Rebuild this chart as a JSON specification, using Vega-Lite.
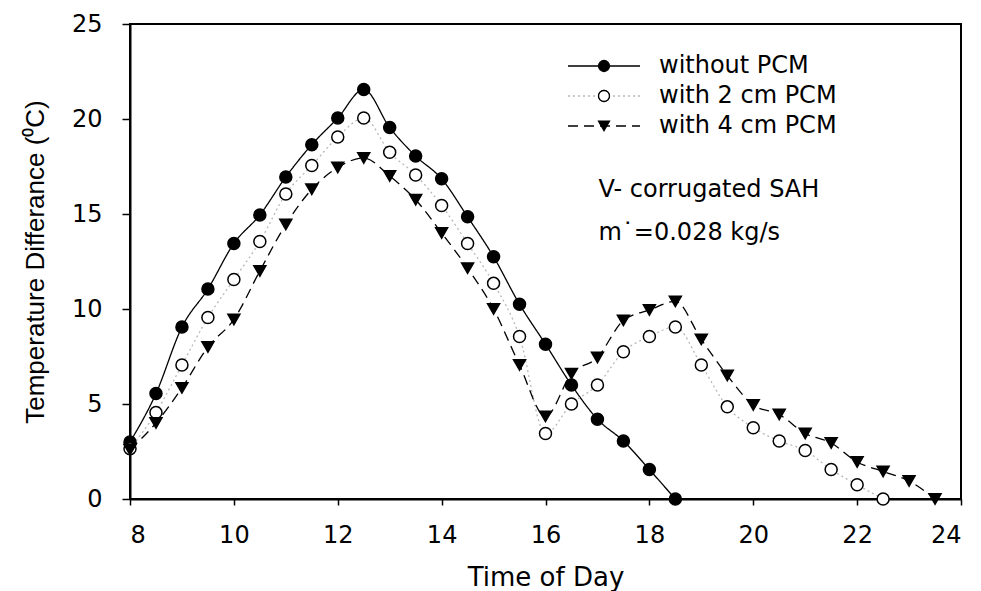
{
  "$schema": "https://vega.github.io/schema/vega-lite/v6.json",
  "autosize": {"type": "none"},
  "padding": {"left": 130, "top": 24, "right": 20, "bottom": 92},
  "width": 831,
  "height": 475,
  "background": "white",
  "config": {
    "font": "DejaVu Sans",
    "view": {"stroke": "#000000", "strokeWidth": 2},
    "axis": {
      "grid": false,
      "domainColor": "#000000",
      "domainWidth": 2,
      "tickColor": "#000000",
      "tickWidth": 1.5,
      "labelColor": "#000000",
      "labelFont": "DejaVu Sans",
      "labelFontSize": 24,
      "titleColor": "#000000",
      "titleFont": "DejaVu Sans",
      "titleFontSize": 26,
      "titleFontWeight": "normal"
    }
  },
  "datasets": {
    "measurements": [
      {"time": 8, "diff": 3.0, "series": "without PCM"},
      {"time": 8.5, "diff": 5.55, "series": "without PCM"},
      {"time": 9, "diff": 9.05, "series": "without PCM"},
      {"time": 9.5, "diff": 11.05, "series": "without PCM"},
      {"time": 10, "diff": 13.45, "series": "without PCM"},
      {"time": 10.5, "diff": 14.95, "series": "without PCM"},
      {"time": 11, "diff": 16.95, "series": "without PCM"},
      {"time": 11.5, "diff": 18.65, "series": "without PCM"},
      {"time": 12, "diff": 20.05, "series": "without PCM"},
      {"time": 12.5, "diff": 21.55, "series": "without PCM"},
      {"time": 13, "diff": 19.55, "series": "without PCM"},
      {"time": 13.5, "diff": 18.05, "series": "without PCM"},
      {"time": 14, "diff": 16.85, "series": "without PCM"},
      {"time": 14.5, "diff": 14.85, "series": "without PCM"},
      {"time": 15, "diff": 12.75, "series": "without PCM"},
      {"time": 15.5, "diff": 10.25, "series": "without PCM"},
      {"time": 16, "diff": 8.15, "series": "without PCM"},
      {"time": 16.5, "diff": 6.0, "series": "without PCM"},
      {"time": 17, "diff": 4.2, "series": "without PCM"},
      {"time": 17.5, "diff": 3.05, "series": "without PCM"},
      {"time": 18, "diff": 1.55, "series": "without PCM"},
      {"time": 18.5, "diff": 0, "series": "without PCM"},
      {"time": 8, "diff": 2.65, "series": "with 2 cm PCM"},
      {"time": 8.5, "diff": 4.55, "series": "with 2 cm PCM"},
      {"time": 9, "diff": 7.05, "series": "with 2 cm PCM"},
      {"time": 9.5, "diff": 9.55, "series": "with 2 cm PCM"},
      {"time": 10, "diff": 11.55, "series": "with 2 cm PCM"},
      {"time": 10.5, "diff": 13.55, "series": "with 2 cm PCM"},
      {"time": 11, "diff": 16.05, "series": "with 2 cm PCM"},
      {"time": 11.5, "diff": 17.55, "series": "with 2 cm PCM"},
      {"time": 12, "diff": 19.05, "series": "with 2 cm PCM"},
      {"time": 12.5, "diff": 20.05, "series": "with 2 cm PCM"},
      {"time": 13, "diff": 18.25, "series": "with 2 cm PCM"},
      {"time": 13.5, "diff": 17.05, "series": "with 2 cm PCM"},
      {"time": 14, "diff": 15.45, "series": "with 2 cm PCM"},
      {"time": 14.5, "diff": 13.45, "series": "with 2 cm PCM"},
      {"time": 15, "diff": 11.35, "series": "with 2 cm PCM"},
      {"time": 15.5, "diff": 8.55, "series": "with 2 cm PCM"},
      {"time": 16, "diff": 3.45, "series": "with 2 cm PCM"},
      {"time": 16.5, "diff": 5.0, "series": "with 2 cm PCM"},
      {"time": 17, "diff": 6.0, "series": "with 2 cm PCM"},
      {"time": 17.5, "diff": 7.75, "series": "with 2 cm PCM"},
      {"time": 18, "diff": 8.55, "series": "with 2 cm PCM"},
      {"time": 18.5, "diff": 9.05, "series": "with 2 cm PCM"},
      {"time": 19, "diff": 7.05, "series": "with 2 cm PCM"},
      {"time": 19.5, "diff": 4.85, "series": "with 2 cm PCM"},
      {"time": 20, "diff": 3.75, "series": "with 2 cm PCM"},
      {"time": 20.5, "diff": 3.05, "series": "with 2 cm PCM"},
      {"time": 21, "diff": 2.55, "series": "with 2 cm PCM"},
      {"time": 21.5, "diff": 1.55, "series": "with 2 cm PCM"},
      {"time": 22, "diff": 0.75, "series": "with 2 cm PCM"},
      {"time": 22.5, "diff": 0, "series": "with 2 cm PCM"},
      {"time": 8, "diff": 2.6, "series": "with 4 cm PCM"},
      {"time": 8.5, "diff": 4.0, "series": "with 4 cm PCM"},
      {"time": 9, "diff": 5.85, "series": "with 4 cm PCM"},
      {"time": 9.5, "diff": 8.0, "series": "with 4 cm PCM"},
      {"time": 10, "diff": 9.45, "series": "with 4 cm PCM"},
      {"time": 10.5, "diff": 12.0, "series": "with 4 cm PCM"},
      {"time": 11, "diff": 14.45, "series": "with 4 cm PCM"},
      {"time": 11.5, "diff": 16.3, "series": "with 4 cm PCM"},
      {"time": 12, "diff": 17.45, "series": "with 4 cm PCM"},
      {"time": 12.5, "diff": 17.95, "series": "with 4 cm PCM"},
      {"time": 13, "diff": 17.0, "series": "with 4 cm PCM"},
      {"time": 13.5, "diff": 15.75, "series": "with 4 cm PCM"},
      {"time": 14, "diff": 14.0, "series": "with 4 cm PCM"},
      {"time": 14.5, "diff": 12.15, "series": "with 4 cm PCM"},
      {"time": 15, "diff": 10.0, "series": "with 4 cm PCM"},
      {"time": 15.5, "diff": 7.05, "series": "with 4 cm PCM"},
      {"time": 16, "diff": 4.35, "series": "with 4 cm PCM"},
      {"time": 16.5, "diff": 6.6, "series": "with 4 cm PCM"},
      {"time": 17, "diff": 7.45, "series": "with 4 cm PCM"},
      {"time": 17.5, "diff": 9.4, "series": "with 4 cm PCM"},
      {"time": 18, "diff": 9.95, "series": "with 4 cm PCM"},
      {"time": 18.5, "diff": 10.4, "series": "with 4 cm PCM"},
      {"time": 19, "diff": 8.4, "series": "with 4 cm PCM"},
      {"time": 19.5, "diff": 6.5, "series": "with 4 cm PCM"},
      {"time": 20, "diff": 4.95, "series": "with 4 cm PCM"},
      {"time": 20.5, "diff": 4.45, "series": "with 4 cm PCM"},
      {"time": 21, "diff": 3.45, "series": "with 4 cm PCM"},
      {"time": 21.5, "diff": 2.95, "series": "with 4 cm PCM"},
      {"time": 22, "diff": 1.95, "series": "with 4 cm PCM"},
      {"time": 22.5, "diff": 1.45, "series": "with 4 cm PCM"},
      {"time": 23, "diff": 0.95, "series": "with 4 cm PCM"},
      {"time": 23.5, "diff": 0, "series": "with 4 cm PCM"}
    ],
    "notes": [
      {"line": 1, "note": "V- corrugated SAH"},
      {"line": 2, "note": "m˙=0.028 kg/s"}
    ]
  },
  "resolve": {"legend": {"strokeDash": "independent", "shape": "independent", "fill": "independent"}},
  "layer": [
    {
      "data": {"name": "measurements"},
      "mark": {"type": "line", "interpolate": "monotone", "strokeWidth": 1.3},
      "encoding": {
        "x": {
          "field": "time",
          "type": "quantitative",
          "scale": {"domain": [8, 24], "nice": false, "zero": false},
          "axis": {
            "values": [8, 10, 12, 14, 16, 18, 20, 22, 24],
            "tickSize": 6,
            "labelPadding": 18,
            "title": "Time of Day",
            "titleX": 415.5,
            "titleY": 86,
            "titleAlign": "center",
            "titleBaseline": "alphabetic"
          }
        },
        "y": {
          "field": "diff",
          "type": "quantitative",
          "scale": {"domain": [0, 25], "nice": false},
          "axis": {
            "values": [0, 5, 10, 15, 20, 25],
            "tickSize": 8,
            "labelPadding": 20,
            "title": "Temperature Differance (⁰C)",
            "titleFont": "Liberation Sans",
            "titleFontSize": 26,
            "titleAngle": -90,
            "titleX": -87,
            "titleY": 237.5,
            "titleAlign": "center",
            "titleBaseline": "alphabetic"
          }
        },
        "stroke": {
          "field": "series",
          "type": "nominal",
          "scale": {
            "domain": ["without PCM", "with 2 cm PCM", "with 4 cm PCM"],
            "range": ["#000000", "#b8b8b8", "#000000"]
          },
          "legend": null
        },
        "strokeDash": {
          "field": "series",
          "type": "nominal",
          "scale": {
            "domain": ["without PCM", "with 2 cm PCM", "with 4 cm PCM"],
            "range": [[1, 0], [2, 3], [10, 6]]
          },
          "legend": {
            "title": null,
            "orient": "none",
            "legendX": 462,
            "legendY": 30,
            "padding": 0,
            "symbolType": "M-6,0H6",
            "symbolSize": 144,
            "symbolStrokeWidth": 1.3,
            "labelFontSize": 24,
            "labelOpacity": 0,
            "labelExpr": "''",
            "labelLimit": 400,
            "rowPadding": 6,
            "encode": {
              "symbols": {
                "update": {
                  "stroke": {"signal": "datum.value === 'with 2 cm PCM' ? '#b8b8b8' : '#000000'"}
                }
              }
            }
          }
        }
      }
    },
    {
      "data": {"name": "measurements"},
      "mark": {"type": "point", "filled": true, "size": 144, "stroke": "#000000", "strokeWidth": 1.5, "opacity": 1},
      "encoding": {
        "x": {"field": "time", "type": "quantitative"},
        "y": {"field": "diff", "type": "quantitative"},
        "shape": {
          "field": "series",
          "type": "nominal",
          "scale": {
            "domain": ["without PCM", "with 2 cm PCM", "with 4 cm PCM"],
            "range": ["circle", "circle", "triangle-down"]
          },
          "legend": {
            "title": null,
            "orient": "none",
            "legendX": 462,
            "legendY": 30,
            "padding": 0,
            "zindex": 2,
            "symbolSize": 120,
            "symbolFillColor": "#000000",
            "symbolStrokeColor": "#000000",
            "symbolStrokeWidth": 1.3,
            "labelFontSize": 24,
            "labelColor": "#000000",
            "labelLimit": 400,
            "labelOffset": 43,
            "rowPadding": 6
          }
        },
        "fill": {
          "field": "series",
          "type": "nominal",
          "sort": ["without PCM", "with 2 cm PCM", "with 4 cm PCM"],
          "scale": {"range": ["#000000", "#ffffff", "#000000"]},
          "legend": {
            "title": null,
            "orient": "none",
            "values": ["with 2 cm PCM"],
            "legendX": 462,
            "legendY": 60,
            "padding": 0,
            "zindex": 3,
            "symbolSize": 120,
            "symbolStrokeColor": "#000000",
            "symbolStrokeWidth": 1.3,
            "labelFontSize": 24,
            "labelOpacity": 0,
            "labelExpr": "''",
            "labelLimit": 400,
            "labelOffset": 43,
            "rowPadding": 6
          }
        }
      }
    },
    {
      "data": {"name": "notes"},
      "transform": [{"filter": "datum.line === 1"}],
      "mark": {"type": "text", "align": "left", "baseline": "alphabetic", "fontSize": 24, "fill": "#000000", "font": "DejaVu Sans"},
      "encoding": {
        "x": {"datum": 17.02, "type": "quantitative"},
        "y": {"datum": 15.9, "type": "quantitative"},
        "text": {"field": "note", "type": "nominal"}
      }
    },
    {
      "data": {"name": "notes"},
      "transform": [{"filter": "datum.line === 2"}],
      "mark": {"type": "text", "align": "left", "baseline": "alphabetic", "fontSize": 24, "fill": "#000000", "font": "DejaVu Sans"},
      "encoding": {
        "x": {"datum": 17.02, "type": "quantitative"},
        "y": {"datum": 13.65, "type": "quantitative"},
        "text": {"field": "note", "type": "nominal"}
      }
    }
  ]
}
